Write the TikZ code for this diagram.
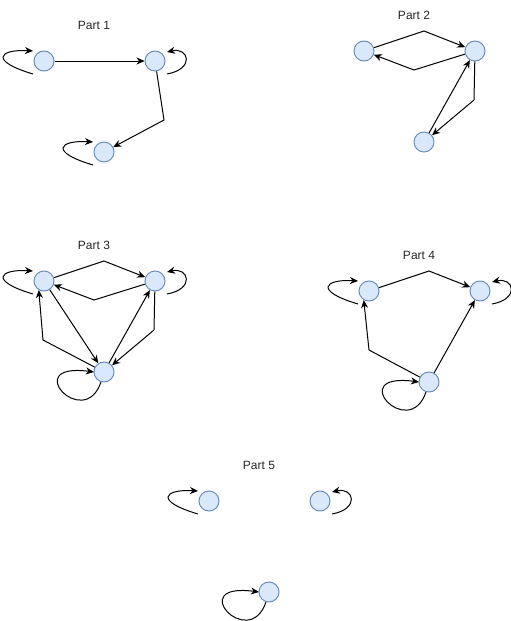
\documentclass[tikz,border=0pt]{standalone}
\usepackage{fontspec}
\setmainfont{Liberation Sans}
\usepackage{tikz}
\usetikzlibrary{arrows.meta, positioning}
\definecolor{stfill}{RGB}{218,232,252}
\definecolor{stline}{RGB}{108,142,191}

\begin{document}
\begin{tikzpicture}[
  x=1pt, y=-1pt,
  every node/.style={font=\fontsize{12}{14}\selectfont},
  state/.style={circle, draw=stline, fill=stfill, line width=1pt,
                minimum size=20pt, inner sep=0pt},
  part/.style={text=black!85},
  arrow/.style={-{Stealth[length=8pt, width=7pt, inset=2.5pt]}, line width=1pt},
]
\useasboundingbox (0,0) rectangle (511,621);

% ── Part 1 ──
\node[part] (t1) at (94,25) {Part 1};
\node[state] (a1) at (44,61) {};
\node[state, right=90pt of a1] (b1) {};
\node[state, below=70pt of a1, xshift=60pt] (c1) {};
\coordinate (w1) at (164,120);
\draw[arrow] (a1) -- (b1);
\draw[arrow] (b1) -- (w1) -- (c1);

% ── Part 2 ──
\node[part] (t2) at (414,15) {Part 2};
\node[state] (a2) at (364,51) {};
\node[state, right=90pt of a2] (b2) {};
\node[state, below=70pt of a2, xshift=60pt] (c2) {};
\coordinate (w2a) at (424,31);
\coordinate (w2b) at (414,70);
\coordinate (w2c) at (474,100);
\draw[arrow] (a2) -- (w2a) -- (b2);
\draw[arrow] (b2) -- (w2b) -- (a2);
\draw[arrow] (c2) -- (b2);
\draw[arrow] (b2) -- (w2c) -- (c2);

% ── Part 3 ──
\node[part] (t3) at (94,245) {Part 3};
\node[state] (a3) at (44,281) {};
\node[state, right=90pt of a3] (b3) {};
\node[state, below=70pt of a3, xshift=60pt] (c3) {};
\coordinate (w3a) at (104,261);
\coordinate (w3b) at (94,300);
\coordinate (w3c) at (154,330);
\coordinate (w3d) at (43,340);
\draw[arrow] (a3) -- (w3a) -- (b3);
\draw[arrow] (b3) -- (w3b) -- (a3);
\draw[arrow] (a3) -- (c3);
\draw[arrow] (c3) -- (b3);
\draw[arrow] (b3) -- (w3c) -- (c3);
\draw[arrow] (c3) -- (w3d) -- (a3.240);

% ── Part 4 ──
\node[part] (t4) at (419,255) {Part 4};
\node[state] (a4) at (369,291) {};
\node[state, right=90pt of a4] (b4) {};
\node[state, below=70pt of a4, xshift=60pt] (c4) {};
\coordinate (w4a) at (429,271);
\coordinate (w4b) at (369,350);
\draw[arrow] (a4) -- (w4a) -- (b4);
\draw[arrow] (c4) -- (b4);
\draw[arrow] (c4) -- (w4b) -- (a4.240);

% ── Part 5 ──
\node[part] (t5) at (259,465) {Part 5};
\node[state] (a5) at (209,501) {};
\node[state, right=90pt of a5] (b5) {};
\node[state, below=70pt of a5, xshift=60pt] (c5) {};

% ── self loops ──
\foreach \n in {a1,c1,a3,a4,a5}
  \draw[arrow] ([shift={(-11,13)}]\n.center) .. controls +(-44,-13) and +(-34,-2)
    .. ([shift={(-11,-10)}]\n.center);
\foreach \n in {b1,b3,b4,b5}
  \draw[arrow] ([shift={(12,13)}]\n.center) .. controls +(28,-5) and +(22,-5)
    .. ([shift={(12,-9)}]\n.center);
\foreach \n in {c3,c4,c5}
  \draw[arrow] ([shift={(-3,10)}]\n.center) .. controls +(-17,50) and +(-75,-10)
    .. ([shift={(-10,0)}]\n.center);

\end{tikzpicture}
\end{document}
